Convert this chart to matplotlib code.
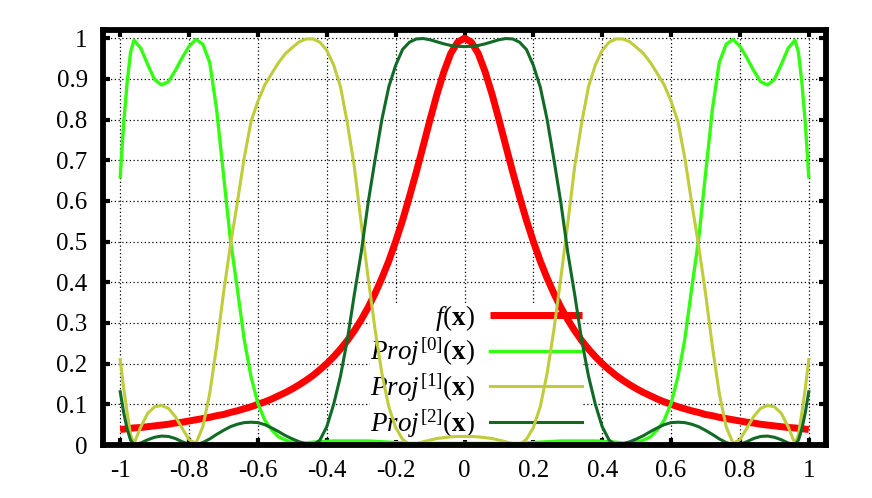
import matplotlib
matplotlib.use("Agg")
import matplotlib.pyplot as plt

plt.rcParams["font.family"] = ["Liberation Serif", "DejaVu Serif"]
plt.rcParams["mathtext.fontset"] = "custom"
plt.rcParams["mathtext.rm"] = "Liberation Serif"
plt.rcParams["mathtext.it"] = "Liberation Serif:italic"
plt.rcParams["mathtext.bf"] = "Liberation Serif:bold"
plt.rcParams["axes.unicode_minus"] = False

# sample positions (left half, then right half)
x = [-1.00, -0.99, -0.98, -0.97, -0.96, -0.94, -0.92, -0.90, -0.88, -0.86,
     -0.84, -0.82, -0.80, -0.78, -0.76, -0.74, -0.72, -0.70, -0.68, -0.66,
     -0.64, -0.62, -0.60, -0.58, -0.56, -0.54, -0.52, -0.50, -0.48, -0.46,
     -0.44, -0.42, -0.40, -0.38, -0.36, -0.34, -0.32, -0.30, -0.28, -0.26,
     -0.24, -0.22, -0.20, -0.18, -0.16, -0.14, -0.12, -0.10, -0.08, -0.06,
     -0.04, -0.02, 0.00,
     0.02, 0.04, 0.06, 0.08, 0.10, 0.12, 0.14, 0.16, 0.18, 0.20,
     0.22, 0.24, 0.26, 0.28, 0.30, 0.32, 0.34, 0.36, 0.38, 0.40,
     0.42, 0.44, 0.46, 0.48, 0.50, 0.52, 0.54, 0.56, 0.58, 0.60,
     0.62, 0.64, 0.66, 0.68, 0.70, 0.72, 0.74, 0.76, 0.78, 0.80,
     0.82, 0.84, 0.86, 0.88, 0.90, 0.92, 0.94, 0.96, 0.97, 0.98,
     0.99, 1.00]

f_vals = [0.038, 0.039, 0.040, 0.041, 0.042, 0.043, 0.045, 0.047, 0.049, 0.051,
          0.054, 0.056, 0.059, 0.062, 0.065, 0.068, 0.072, 0.075, 0.080, 0.084,
          0.089, 0.094, 0.100, 0.106, 0.113, 0.121, 0.129, 0.138, 0.148, 0.159,
          0.171, 0.185, 0.200, 0.217, 0.236, 0.257, 0.281, 0.308, 0.338, 0.372,
          0.410, 0.452, 0.500, 0.552, 0.610, 0.671, 0.735, 0.800, 0.862, 0.917,
          0.962, 0.990, 1.000,
          0.990, 0.962, 0.917, 0.862, 0.800, 0.735, 0.671, 0.610, 0.552, 0.500,
          0.452, 0.410, 0.372, 0.338, 0.308, 0.281, 0.257, 0.236, 0.217, 0.200,
          0.185, 0.171, 0.159, 0.148, 0.138, 0.129, 0.121, 0.113, 0.106, 0.100,
          0.094, 0.089, 0.084, 0.080, 0.075, 0.072, 0.068, 0.065, 0.062, 0.059,
          0.056, 0.054, 0.051, 0.049, 0.047, 0.045, 0.043, 0.042, 0.041, 0.040,
          0.039, 0.038]

proj0 = [0.659, 0.790, 0.890, 0.965, 0.995, 0.975, 0.935, 0.898, 0.885, 0.893,
         0.920, 0.952, 0.980, 0.997, 0.985, 0.940, 0.825, 0.665, 0.505, 0.385,
         0.260, 0.168, 0.102, 0.061, 0.037, 0.020, 0.012, 0.007, 0.005, 0.005,
         0.007, 0.008, 0.009, 0.010, 0.010, 0.010, 0.010, 0.010, 0.010, 0.009,
         0.008, 0.007, 0.006, 0.005, 0.004, 0.004, 0.004, 0.004, 0.004, 0.004,
         0.004, 0.004, 0.004,
         0.004, 0.004, 0.004, 0.004, 0.004, 0.004, 0.004, 0.004, 0.005, 0.006,
         0.007, 0.008, 0.009, 0.010, 0.010, 0.010, 0.010, 0.010, 0.010, 0.009,
         0.008, 0.007, 0.005, 0.005, 0.007, 0.012, 0.020, 0.037, 0.061, 0.102,
         0.168, 0.260, 0.385, 0.505, 0.665, 0.825, 0.940, 0.985, 0.997, 0.980,
         0.952, 0.920, 0.893, 0.885, 0.898, 0.935, 0.975, 0.995, 0.965, 0.890,
         0.790, 0.659]

proj1 = [0.210, 0.140, 0.080, 0.025, 0.003, 0.045, 0.078, 0.094, 0.097, 0.090,
         0.070, 0.041, 0.013, 0.004, 0.045, 0.127, 0.242, 0.373, 0.490, 0.595,
         0.705, 0.795, 0.845, 0.885, 0.913, 0.940, 0.962, 0.977, 0.991, 0.998,
         0.998, 0.990, 0.970, 0.934, 0.880, 0.790, 0.684, 0.545, 0.412, 0.285,
         0.176, 0.094, 0.043, 0.014, 0.001, 0.003, 0.008, 0.012, 0.016, 0.018,
         0.020, 0.021, 0.021,
         0.021, 0.020, 0.018, 0.016, 0.012, 0.008, 0.003, 0.001, 0.014, 0.043,
         0.094, 0.176, 0.285, 0.412, 0.545, 0.684, 0.790, 0.880, 0.934, 0.970,
         0.990, 0.998, 0.998, 0.991, 0.977, 0.962, 0.940, 0.913, 0.885, 0.845,
         0.795, 0.705, 0.595, 0.490, 0.373, 0.242, 0.127, 0.045, 0.004, 0.013,
         0.041, 0.070, 0.090, 0.097, 0.094, 0.078, 0.045, 0.003, 0.025, 0.080,
         0.140, 0.210]

proj2 = [0.131, 0.080, 0.040, 0.012, 0.001, 0.005, 0.013, 0.019, 0.022, 0.021,
         0.016, 0.008, 0.002, 0.001, 0.006, 0.015, 0.026, 0.036, 0.045, 0.051,
         0.055, 0.056, 0.055, 0.050, 0.042, 0.033, 0.023, 0.015, 0.008, 0.003,
         0.000, 0.012, 0.045, 0.100, 0.170, 0.260, 0.370, 0.473, 0.595, 0.700,
         0.800, 0.880, 0.933, 0.972, 0.990, 0.998, 0.999, 0.996, 0.991, 0.986,
         0.982, 0.980, 0.979,
         0.980, 0.982, 0.986, 0.991, 0.996, 0.999, 0.998, 0.990, 0.972, 0.933,
         0.880, 0.800, 0.700, 0.595, 0.473, 0.370, 0.260, 0.170, 0.100, 0.045,
         0.012, 0.000, 0.003, 0.008, 0.015, 0.023, 0.033, 0.042, 0.050, 0.055,
         0.056, 0.055, 0.051, 0.045, 0.036, 0.026, 0.015, 0.006, 0.001, 0.002,
         0.008, 0.016, 0.021, 0.022, 0.019, 0.013, 0.005, 0.001, 0.012, 0.040,
         0.080, 0.131]

labels = [r"$f(\mathbf{x})$",
          r"$Proj^{\mathit{[0]}}(\mathbf{x})$",
          r"$Proj^{\mathit{[1]}}(\mathbf{x})$",
          r"$Proj^{\mathit{[2]}}(\mathbf{x})$"]
xticks = [-1, -0.8, -0.6, -0.4, -0.2, 0, 0.2, 0.4, 0.6, 0.8, 1]
yticks = [0, 0.1, 0.2, 0.3, 0.4, 0.5, 0.6, 0.7, 0.8, 0.9, 1]

fig = plt.figure(figsize=(8.72, 4.98), dpi=100)
ax = fig.add_axes([103 / 872, 1 - 445 / 498, 723 / 872, 415 / 498])

ax.plot(x, f_vals, color="#ff0000", lw=5.0, label=labels[0], solid_capstyle="butt")
ax.plot(x, proj0, color="#33ff11", lw=2.4, label=labels[1])
ax.plot(x, proj1, color="#bfcc3c", lw=2.2, label=labels[2])
ax.plot(x, proj2, color="#116a26", lw=2.2, label=labels[3])

ax.set_xlim(-1.05, 1.05)
ax.set_ylim(0, 1.02)
ax.set_xticks(xticks)
ax.set_yticks(yticks)
ax.set_xticklabels(["%g" % t for t in xticks])
ax.set_yticklabels(["%g" % t for t in yticks])
ax.tick_params(direction="in", top=True, right=True, length=5, width=3,
               labelsize=18, pad=11)
ax.set_axisbelow(True)
ax.grid(True, color="black", linestyle=(0, (1, 2)), lw=0.9)
for sp in ax.spines.values():
    sp.set_linewidth(4.2)

leg = ax.legend(loc="upper right", bbox_to_anchor=(0.663, 0.343),
                frameon=True, fancybox=False, edgecolor="none", facecolor="white",
                framealpha=1, prop={"size": 19.5}, markerfirst=False,
                handlelength=3.4, handletextpad=0.55, labelspacing=0.12,
                borderpad=0.0, borderaxespad=0.0)
leg.set_zorder(1.5)

fig.savefig("out.png", dpi=100)
